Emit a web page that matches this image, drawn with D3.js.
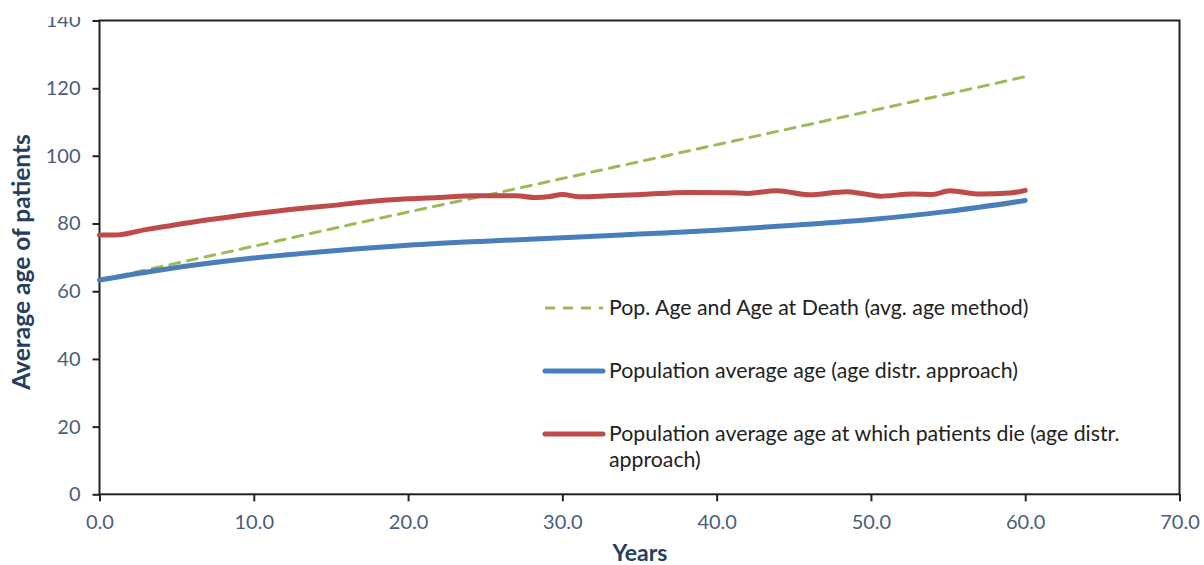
<!DOCTYPE html>
<html>
<head>
<meta charset="utf-8">
<script src="https://cdn.jsdelivr.net/npm/d3@7"></script>
<style>
  html, body { margin: 0; padding: 0; background: #fff; }
  svg { display: block; font-family: Lato, "Open Sans", sans-serif; }
</style>
</head>
<body>
<svg id="chart" width="1204" height="565"></svg>
<script>
// ---- data ----
const xTicks = [0, 10, 20, 30, 40, 50, 60, 70];
const yTicks = [0, 20, 40, 60, 80, 100, 120, 140];

const seriesNames = [
  "Pop. Age and Age at Death (avg. age method)",
  "Population average age (age distr. approach)",
  "Population average age at which patients die (age distr. approach)"
];

const greenYears = [0, 5, 10, 15, 20, 25, 30, 35, 40, 45, 50, 55, 60];
const greenValues = [63.3, 68.3, 73.3, 78.4, 83.4, 88.3, 93.3, 98.3, 103.3, 108.3, 113.3, 118.3, 123.4];

const blueYears = [0, 5, 10, 15, 20, 25, 30, 35, 40, 45, 50, 55, 60];
const blueValues = [63.3, 67.0, 69.8, 71.9, 73.6, 74.8, 75.8, 76.9, 78.0, 79.5, 81.2, 83.6, 86.8];

const redYears = [0, 1, 3, 6, 9, 12.7, 15, 17, 20, 22, 24.4, 27, 28.3, 29.2, 30, 31.1, 33, 35.2, 38.1, 40.9, 42, 43.9, 46, 48.4, 49.5, 50.6, 52.7, 54, 55.1, 57.1, 59, 60];
const redValues = [76.6, 76.6, 78.2, 80.4, 82.3, 84.3, 85.3, 86.3, 87.3, 87.7, 88.2, 88.2, 87.7, 88.0, 88.6, 87.9, 88.2, 88.6, 89.2, 89.1, 88.9, 89.7, 88.5, 89.4, 88.8, 88.1, 88.7, 88.6, 89.7, 88.7, 89.0, 89.8];

(function () {
const svg = d3.select("#chart");
const mLeft = 99.5, mRight = 1179.5, mTop = 20.5, mBottom = 494.3;

const x = d3.scaleLinear().domain([0, 70]).range([mLeft, mRight]);
const y = d3.scaleLinear().domain([0, 140]).range([mBottom, mTop]);

const tickColor = "#4a5d7c";
const titleColor = "#243f60";

svg.append("defs").append("clipPath").attr("id", "clipTop")
  .append("rect").attr("x", -200).attr("y", 17).attr("width", 1500).attr("height", 600);

const yAxis = svg.append("g")
  .attr("transform", `translate(${mLeft},0)`)
  .attr("clip-path", "url(#clipTop)")
  .call(d3.axisLeft(y).tickValues(yTicks).tickSize(7).tickPadding(12).tickFormat(d3.format("d")));
const xAxis = svg.append("g")
  .attr("transform", `translate(0,${mBottom})`)
  .call(d3.axisBottom(x).tickValues(xTicks).tickSize(7).tickPadding(14).tickFormat(d3.format(".1f")));

[yAxis, xAxis].forEach(g => {
  g.select(".domain").remove();
  g.selectAll(".tick line").attr("stroke", "#222").attr("stroke-width", 2);
  g.selectAll(".tick text").attr("fill", tickColor).style("font-size", "20px").style("font-family", "Lato, sans-serif");
});

svg.append("rect")
  .attr("x", mLeft).attr("y", mTop)
  .attr("width", mRight - mLeft).attr("height", mBottom - mTop)
  .attr("fill", "none").attr("stroke", "#222").attr("stroke-width", 2);

svg.append("text")
  .attr("transform", `translate(30,262) rotate(-90)`)
  .attr("text-anchor", "middle")
  .attr("fill", titleColor)
  .style("font-size", "24.5px").style("font-weight", "bold")
  .text("Average age of patients");

svg.append("text")
  .attr("x", 640).attr("y", 561)
  .attr("text-anchor", "middle")
  .attr("fill", titleColor)
  .style("font-size", "23px").style("font-weight", "bold")
  .text("Years");

const line = d3.line().x(d => x(d[0])).y(d => y(d[1])).curve(d3.curveMonotoneX);
const series = [
  { pts: d3.zip(greenYears, greenValues), color: "#9bbb59", width: 3, dash: "10,8" },
  { pts: d3.zip(blueYears, blueValues), color: "#4a7ebb", width: 5, dash: null },
  { pts: d3.zip(redYears, redValues), color: "#be4b48", width: 5, dash: null }
];

series.forEach(s => {
  svg.append("path")
    .datum(s.pts)
    .attr("d", line)
    .attr("fill", "none")
    .attr("stroke", s.color)
    .attr("stroke-width", s.width)
    .attr("stroke-linecap", "round")
    .attr("stroke-linejoin", "round")
    .attr("stroke-dasharray", s.dash);
});

const legendY = [308, 371, 434];
const legend = svg.append("g");
series.forEach((s, i) => {
  legend.append("line")
    .attr("x1", 545).attr("x2", 603)
    .attr("y1", legendY[i]).attr("y2", legendY[i])
    .attr("stroke", s.color).attr("stroke-width", s.width)
    .attr("stroke-linecap", s.dash ? "butt" : "round")
    .attr("stroke-dasharray", s.dash);
});
const legendLines = [
  [seriesNames[0]],
  [seriesNames[1]],
  ["Population average age at which patients die (age distr.", "approach)"]
];
legendLines.forEach((lines, i) => {
  const t = legend.append("text")
    .attr("x", 609).attr("y", legendY[i] + 7)
    .attr("fill", "#222")
    .style("font-size", "21.3px");
  lines.forEach((l, j) => {
    t.append("tspan").attr("x", 609).attr("dy", j === 0 ? 0 : 26).text(l);
  });
});
})();
</script>
</body>
</html>
